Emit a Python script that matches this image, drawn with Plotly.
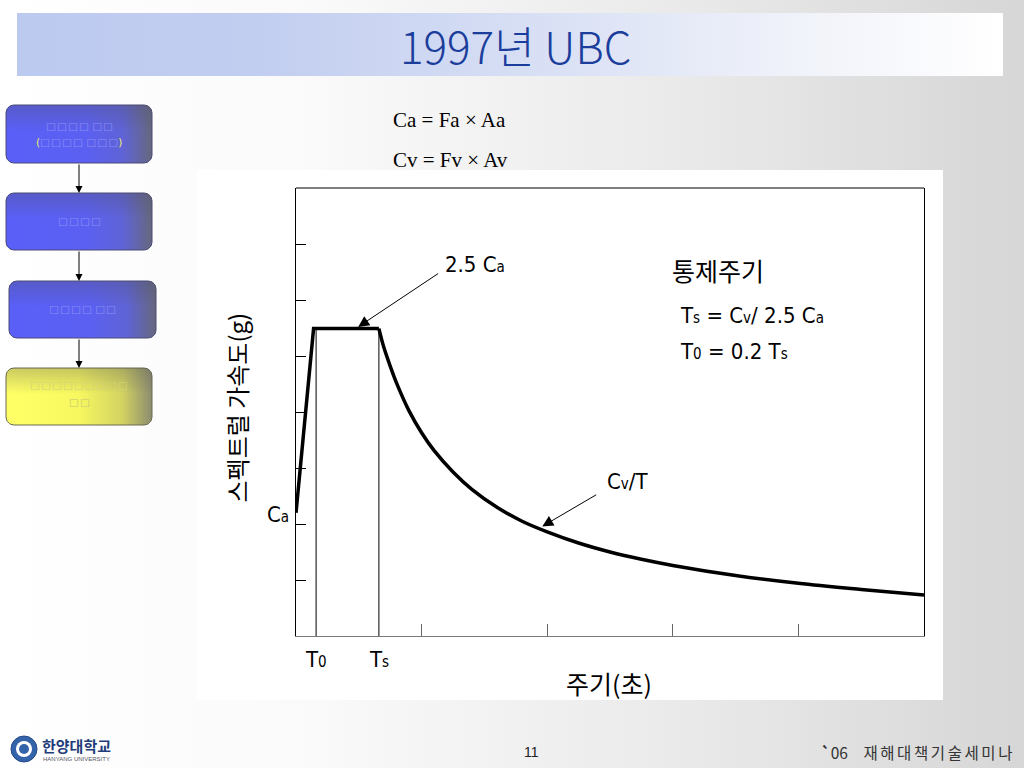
import math
import plotly.graph_objects as go

# ---------------- data ----------------
ramp_period = [0.0, 0.14, 0.66]
ramp_accel = [2.2, 5.49, 5.49]
decay_period = [0.66, 0.70, 0.75, 0.80, 0.90, 1.00, 1.10, 1.25, 1.40, 1.60, 1.80,
                2.00, 2.25, 2.50, 2.75, 3.00, 3.50, 4.00, 4.50, 5.00]
decay_accel = [5.49, 5.15, 4.82, 4.52, 4.02, 3.63, 3.31, 2.93, 2.62, 2.30, 2.05,
               1.86, 1.66, 1.50, 1.37, 1.26, 1.08, 0.94, 0.83, 0.73]
marker_periods = [0.16, 0.66]            # T0, Ts
marker_labels = ["T<span style='font-size:15px'>0</span>",
                 "T<span style='font-size:15px'>s</span>"]
ca_value = 2.2
plateau_value = 5.49
x_tick_vals = [1, 2, 3, 4]
y_tick_vals = [1, 2, 3, 4, 5, 6, 7]
x_range = [0, 5]
y_range = [0, 8]

# ---------------- page geometry ----------------
W, H = 1024, 768
PL, PR, PT, PB = 296, 924, 188, 636

KR = "Noto Sans CJK KR"
NARROW = "Liberation Sans Narrow, DejaVu Sans Condensed, Arial Narrow, sans-serif"


def px(x):
    return x / W


def py(y):
    return 1 - y / H


fig = go.Figure()


def add_poly(xs, ys, colorscale=None, gtype="horizontal", fillcolor=None,
             line_color="rgba(0,0,0,0)", line_width=0):
    kw = dict(x=xs, y=ys, mode="lines", fill="toself", hoverinfo="skip",
              showlegend=False, xaxis="x", yaxis="y",
              line=dict(color=line_color, width=line_width))
    if colorscale is not None:
        kw["fillgradient"] = dict(type=gtype, colorscale=colorscale)
    else:
        kw["fillcolor"] = fillcolor
    fig.add_trace(go.Scatter(**kw))


def rect(x0, y0, x1, y1):
    return [x0, x1, x1, x0, x0], [y0, y0, y1, y1, y0]


def rrect(x0, y0, x1, y1, r, n=8):
    corners = [(x1 - r, y0 + r, -90, 0), (x1 - r, y1 - r, 0, 90),
               (x0 + r, y1 - r, 90, 180), (x0 + r, y0 + r, 180, 270)]
    xs, ys = [], []
    for cx, cy, a0, a1 in corners:
        for i in range(n + 1):
            a = math.radians(a0 + (a1 - a0) * i / n)
            xs.append(cx + r * math.cos(a))
            ys.append(cy + r * math.sin(a))
    xs.append(xs[0])
    ys.append(ys[0])
    return xs, ys


# slide background
bx, by = rect(0, 0, W, H)
add_poly(bx, by, colorscale=[[0, "#ffffff"], [0.3, "#fafafa"], [0.7, "#e8e8e8"], [1, "#d6d6d6"]])

# title bar
tx, ty = rect(17, 13, 1003, 76)
add_poly(tx, ty, colorscale=[[0, "#bdcaf0"], [0.25, "#c2cef0"], [0.55, "#dae1f5"],
                             [0.8, "#f1f3fa"], [1, "#ffffff"]])

# chart panel
cx_, cy_ = rect(197, 170, 943, 700)
add_poly(cx_, cy_, fillcolor="#ffffff")

# flowchart boxes
boxes = [(6, 105, 152, 163, "blue"), (6, 193, 152, 250, "blue"),
         (9, 281, 156, 338, "blue"), (6, 368, 152, 425, "yellow")]
for x0, y0, x1, y1, kind in boxes:
    xs, ys = rrect(x0, y0, x1, y1, 8)
    if kind == "blue":
        add_poly(xs, ys, colorscale=[[0, "#5a5ff8"], [0.55, "#5b60f2"], [0.8, "#5f63d6"], [1, "#66687e"]],
                 line_color="#4a4a78", line_width=1)
    else:
        add_poly(xs, ys, colorscale=[[0, "#ffff66"], [0.5, "#f7f760"], [0.8, "#d2d262"], [1, "#8c8c70"]],
                 line_color="#6a6a50", line_width=1)
    add_poly(xs, ys, gtype="vertical",
             colorscale=[[0, "rgba(80,80,90,0)"], [0.55, "rgba(80,80,90,0)"], [1, "rgba(80,80,90,0.3)"]])

# ---------------- chart traces ----------------
for T in marker_periods:
    fig.add_trace(go.Scatter(x=[T, T], y=[0, plateau_value], mode="lines",
                             line=dict(color="black", width=1), xaxis="x2", yaxis="y2",
                             hoverinfo="skip", showlegend=False))
fig.add_trace(go.Scatter(x=ramp_period, y=ramp_accel, mode="lines",
                         line=dict(color="black", width=3.5), xaxis="x2", yaxis="y2",
                         showlegend=False))
fig.add_trace(go.Scatter(x=decay_period, y=decay_accel, mode="lines",
                         line=dict(color="black", width=3.5, shape="spline", smoothing=1.0),
                         xaxis="x2", yaxis="y2", showlegend=False))

# ---------------- annotations ----------------
ann = []


def text(x, y, s, size, family=KR, color="black", xanchor="left", weight=None, angle=0):
    f = dict(family=family, size=size, color=color)
    if weight:
        f["weight"] = weight
    ann.append(dict(x=px(x), y=py(y), xref="paper", yref="paper", text=s, showarrow=False,
                    xanchor=xanchor, yanchor="middle", font=f, textangle=angle))


# title
text(515, 45, "1997년 UBC", 44, family=KR, color="#1b3d9c", xanchor="center", weight=300)

# formulas above the chart
text(391, 120, "Ca = Fa × Aa", 21, family="Liberation Serif, Times New Roman, serif")
text(391, 160, "Cv = Fv × Av", 21, family="Liberation Serif, Times New Roman, serif")

# chart labels
small = "<span style='font-size:15px'>%s</span>"
text(443, 265, "2.5 C" + small % "a", 22, family=NARROW)
text(605, 481, "C" + small % "v" + "/T", 22, family=NARROW)
text(670, 270, "통제주기", 25, family=KR)
text(678, 316, "T" + small % "s" + " = C" + small % "v" + "/ 2.5 C" + small % "a", 22, family=NARROW)
text(678, 352, "T" + small % "0" + " = 0.2 T" + small % "s", 22, family=NARROW)
text(609, 683, "주기(초)", 25, family=KR, xanchor="center")
ann.append(dict(x=px(216), y=py(408), xref="paper", yref="paper", text="스펙트럴 가속도(g)",
                showarrow=False, textangle=-90, font=dict(family=KR, size=24, color="black")))

# data-tied labels
ann.append(dict(x=0, y=ca_value, xref="x2", yref="y2", text="C" + small % "a", showarrow=False,
                xanchor="right", yanchor="middle", xshift=-5, yshift=-2,
                font=dict(family=NARROW, size=22, color="black")))
for T, lab in zip(marker_periods, marker_labels):
    ann.append(dict(x=T, y=0, xref="x2", yref="y2", text=lab, showarrow=False,
                    xanchor="center", yanchor="top", yshift=-9,
                    font=dict(family=NARROW, size=22, color="black")))

# arrows
ann.append(dict(x=0.475, y=plateau_value, xref="x2", yref="y2", text="", showarrow=True,
                ax=84, ay=-56, arrowhead=2, arrowsize=2.2, arrowwidth=1, arrowcolor="black",
                standoff=3))
ann.append(dict(x=1.94, y=1.93, xref="x2", yref="y2", text="", showarrow=True,
                ax=58, ay=-34, arrowhead=2, arrowsize=2.2, arrowwidth=1, arrowcolor="black",
                standoff=3))

# flowchart box texts (rendered as missing-glyph boxes in the reference)
HS = "\u200a"
sq = "\u25a1"


def sqs(n):
    return HS.join([sq] * n)


blue_txt = "#8a8ef4"
BOXF = "DejaVu Sans"
text(79, 126, sqs(4) + " " + sqs(2), 10.5, family=BOXF, color=blue_txt, xanchor="center")
text(79, 142, "<span style='color:#eeee66'>(</span>" + sqs(4) + " " + sqs(3)
     + "<span style='color:#eeee66'>)</span>", 10.5, family=BOXF, color=blue_txt, xanchor="center")
text(79, 221, sqs(4), 10.5, family=BOXF, color=blue_txt, xanchor="center")
text(82, 309, sqs(4) + " " + sqs(2), 10.5, family=BOXF, color=blue_txt, xanchor="center")
text(79, 385, sqs(9), 10.5, family=BOXF, color="#d4d47a", xanchor="center")
text(79, 402, sqs(2), 10.5, family=BOXF, color="#c8c878", xanchor="center")

# flowchart arrows
for y_from, y_to in [(163, 193), (250, 281), (338, 368)]:
    ann.append(dict(x=px(79), y=py(y_to), xref="paper", yref="paper", text="", showarrow=True,
                    axref="pixel", ayref="pixel", ax=0, ay=-(y_to - y_from),
                    arrowhead=2, arrowsize=1.4, arrowwidth=1, arrowcolor="black"))

# footer
SP6 = "\u2006"
text(531, 752, "11", 14, family="Arial, Liberation Sans, sans-serif", color="#222", xanchor="center")
text(819, 752, "<b>`</b>06\u2003" + SP6.join(list("재해대책기술세미나")), 15.5, family=KR, color="#333")
text(40, 745, "<b>한양대학교</b>", 15, family=KR, color="#1f3d7a")
text(41, 759, "HANYANG UNIVERSITY", 6, family="Arial, sans-serif", color="#556")

# ---------------- shapes ----------------
shapes = [
    dict(type="line", xref="paper", yref="paper", x0=px(PL), x1=px(PR), y0=py(PT), y1=py(PT),
         line=dict(color="black", width=1), layer="above"),
    dict(type="circle", xref="paper", yref="paper", x0=px(11), x1=px(37), y0=py(762), y1=py(736),
         fillcolor="#3463aa", line=dict(color="#244a88", width=1), layer="above"),
    dict(type="circle", xref="paper", yref="paper", x0=px(16), x1=px(32), y0=py(757), y1=py(741),
         fillcolor="#ffffff", line=dict(width=0), layer="above"),
    dict(type="circle", xref="paper", yref="paper", x0=px(19), x1=px(29), y0=py(754), y1=py(744),
         fillcolor="#3463aa", line=dict(width=0), layer="above"),
]

fig.update_layout(
    width=W, height=H, margin=dict(l=0, r=0, t=0, b=0),
    paper_bgcolor="white", plot_bgcolor="rgba(0,0,0,0)", showlegend=False,
    xaxis=dict(domain=[0, 1], range=[0, W], visible=False, fixedrange=True),
    yaxis=dict(domain=[0, 1], range=[H, 0], visible=False, fixedrange=True),
    xaxis2=dict(domain=[px(PL), px(PR)], range=x_range, anchor="y2", showline=True,
                linecolor="#7a7a7a", linewidth=1, ticks="inside", tickvals=x_tick_vals,
                ticklen=12, tickcolor="#666", tickwidth=1, showticklabels=False,
                showgrid=False, zeroline=False, fixedrange=True),
    yaxis2=dict(domain=[py(PB), py(PT)], range=y_range, anchor="x2", showline=True,
                linecolor="black", linewidth=1, mirror=True, ticks="inside",
                tickvals=y_tick_vals, ticklen=10, tickcolor="black", tickwidth=1,
                showticklabels=False, showgrid=False, zeroline=False, fixedrange=True),
    annotations=ann, shapes=shapes,
)

fig.write_html("out.html", config={"displayModeBar": False},
               post_script="document.body.style.margin='0';document.body.style.overflow='hidden';")
